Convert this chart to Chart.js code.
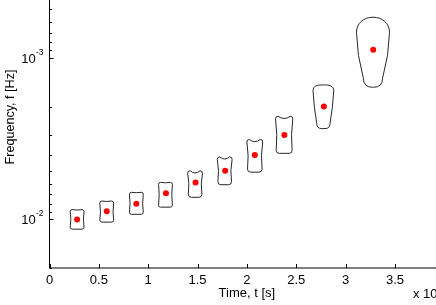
<!DOCTYPE html>
<html><head><meta charset="utf-8">
<script src="https://cdn.jsdelivr.net/npm/chart.js@4/dist/chart.umd.min.js"></script>
<style>
html,body{margin:0;padding:0;background:#fff;overflow:hidden;width:436px;height:305px;}
#c{position:absolute;left:0;top:-58px;width:450px;height:363px;}
</style></head>
<body>
<canvas id="c" width="450" height="363"></canvas>
<script>
// ---- data ----
const times = [0.28, 0.58, 0.88, 1.18, 1.48, 1.78, 2.08, 2.38, 2.78, 3.28];
const freqs = [0.0100, 0.0089, 0.0080, 0.0069, 0.0059, 0.0050, 0.0040, 0.0030, 0.0020, 0.00089];
const boxTimeMin = [0.21, 0.51, 0.81, 1.105, 1.40, 1.70, 2.00, 2.29, 2.67, 3.11];
const boxTimeMax = [0.35, 0.65, 0.95, 1.245, 1.55, 1.85, 2.16, 2.465, 2.88, 3.445];
const boxFreqMin = [0.0087, 0.0077, 0.0068, 0.0059, 0.0050, 0.0041, 0.0032, 0.0023, 0.00147, 0.00056];
const boxFreqMax = [0.0115, 0.0104, 0.0093, 0.0084, 0.0073, 0.0061, 0.0051, 0.0039, 0.00274, 0.00152];
const xTicks = [0, 0.5, 1, 1.5, 2, 2.5, 3, 3.5, 4];
const xTickLabels = ['0', '0.5', '1', '1.5', '2', '2.5', '3', '3.5', '4'];
const yDecades = [0.001, 0.01];
const yDecadeExps = ['-3', '-2'];
const xTitle = 'Time, t [s]';
const yTitle = 'Frequency, f [Hz]';
const xMultiplier = ['x 10', '4'];

const FONT = '"Liberation Sans", Arial, sans-serif';

function shapeStyle(i) {
  if (i < 4) return {rt: 2, rb: 2, dip: 0.4, ratio: 1, waist: 0.6, dome: 0, round: 0};
  if (i < 8) return {rt: 2.5, rb: 3, dip: 2.2, ratio: 0.92, waist: 0.9, dome: 0, round: 0};
  if (i === 8) return {rt: 0, rb: 5, dip: 0, ratio: 0.64, waist: -0.5, dome: 6, round: 0.08};
  return {rt: 0, rb: 9, dip: 0, ratio: 0.58, waist: -1.5, dome: 15, round: 0.4};
}

const contourPlugin = {
  id: 'contours',
  beforeDatasetsDraw(chart) {
    const ctx = chart.ctx, xs = chart.scales.x, ys = chart.scales.y;
    ctx.save();
    ctx.strokeStyle = '#262626';
    ctx.lineWidth = 1;
    for (let i = 0; i < times.length; i++) {
      const s = shapeStyle(i);
      const xl = xs.getPixelForValue(boxTimeMin[i]);
      const xr = xs.getPixelForValue(boxTimeMax[i]);
      const yt = ys.getPixelForValue(boxFreqMin[i]);
      const yb = ys.getPixelForValue(boxFreqMax[i]);
      const cx = (xl + xr) / 2, hwT = (xr - xl) / 2, hwB = hwT * s.ratio;
      const xl2 = cx - hwB, xr2 = cx + hwB;
      ctx.beginPath();
      let ySide;
      if (s.dome > 0) {
        ySide = yt + s.dome;
        ctx.moveTo(xl, ySide);
        ctx.bezierCurveTo(xl, yt + s.dome * s.round, cx - hwT * 0.55, yt, cx, yt);
        ctx.bezierCurveTo(cx + hwT * 0.55, yt, xr, yt + s.dome * s.round, xr, ySide);
      } else {
        ySide = yt + s.rt;
        ctx.moveTo(xl + s.rt, yt);
        ctx.quadraticCurveTo(cx, yt + 2 * s.dip, xr - s.rt, yt);
        ctx.quadraticCurveTo(xr, yt, xr, ySide);
      }
      const mid = (ySide + yb - s.rb) / 2;
      ctx.quadraticCurveTo((xr + xr2) / 2 - 2 * s.waist, mid, xr2, yb - s.rb);
      ctx.quadraticCurveTo(xr2, yb, xr2 - s.rb, yb);
      ctx.lineTo(xl2 + s.rb, yb);
      ctx.quadraticCurveTo(xl2, yb, xl2, yb - s.rb);
      ctx.quadraticCurveTo((xl + xl2) / 2 + 2 * s.waist, mid, xl, ySide);
      if (s.dome <= 0) ctx.quadraticCurveTo(xl, yt, xl + s.rt, yt);
      ctx.closePath();
      ctx.stroke();
    }
    ctx.restore();
  }
};

const axesPlugin = {
  id: 'axesDraw',
  afterDraw(chart) {
    const ctx = chart.ctx, xs = chart.scales.x, ys = chart.scales.y, a = chart.chartArea;
    ctx.save();
    ctx.strokeStyle = '#000';
    ctx.lineWidth = 1;
    ctx.beginPath();
    ctx.moveTo(a.left, a.top); ctx.lineTo(a.left, a.bottom);
    ctx.moveTo(a.left, a.bottom); ctx.lineTo(a.right, a.bottom);
    ctx.stroke();
    ctx.beginPath();
    xTicks.forEach(v => {
      const px = Math.round(xs.getPixelForValue(v)) + 0.5;
      ctx.moveTo(px, a.bottom); ctx.lineTo(px, a.bottom - 4);
    });
    ctx.stroke();
    ctx.beginPath();
    for (let e = -4; e <= -2; e++) {
      for (let k = 1; k <= 9; k++) {
        const v = k * Math.pow(10, e);
        if (v < ys.min || v > ys.max) continue;
        const py = Math.round(ys.getPixelForValue(v)) + 0.5;
        const len = k === 1 ? 4 : 2.5;
        ctx.moveTo(a.left, py); ctx.lineTo(a.left + len, py);
      }
    }
    ctx.stroke();
    ctx.fillStyle = '#000';
    ctx.font = '13px ' + FONT;
    ctx.textAlign = 'center';
    ctx.textBaseline = 'alphabetic';
    xTicks.forEach((v, i) => {
      ctx.fillText(xTickLabels[i], xs.getPixelForValue(v), a.bottom + 16.3);
    });
    yDecades.forEach((v, i) => {
      const py = ys.getPixelForValue(v);
      ctx.font = '13px ' + FONT;
      ctx.textAlign = 'right';
      ctx.fillText('10', a.left - 13.8, py + 5);
      ctx.font = '8.5px ' + FONT;
      ctx.textAlign = 'left';
      ctx.fillText(yDecadeExps[i], a.left - 13.5, py - 3);
    });
    ctx.font = '13px ' + FONT;
    ctx.textAlign = 'center';
    ctx.fillText(xTitle, (a.left + a.right) / 2, a.bottom + 29);
    ctx.textAlign = 'left';
    ctx.fillText(xMultiplier[0], 413, a.bottom + 30.3);
    const w = ctx.measureText(xMultiplier[0]).width;
    ctx.font = '8.5px ' + FONT;
    ctx.fillText(xMultiplier[1], 413 + w + 0.5, a.bottom + 24);
    ctx.font = '12.6px ' + FONT;
    ctx.translate(10.5, (a.top + a.bottom) / 2 + 10.5);
    ctx.rotate(-Math.PI / 2);
    ctx.textAlign = 'center';
    ctx.textBaseline = 'middle';
    ctx.fillText(yTitle, 0, 0);
    ctx.restore();
  }
};

new Chart(document.getElementById('c'), {
  type: 'scatter',
  data: {
    datasets: [{
      data: times.map((t, i) => ({x: t, y: freqs[i]})),
      backgroundColor: '#ff0000',
      borderWidth: 0,
      pointRadius: 3,
      pointHoverRadius: 3
    }]
  },
  options: {
    responsive: false,
    devicePixelRatio: 1,
    animation: false,
    events: [],
    layout: {padding: {left: 0, right: 5.7, top: 0, bottom: 0}},
    plugins: {legend: {display: false}, tooltip: {enabled: false}},
    scales: {
      x: {
        type: 'linear', min: 0, max: 4,
        grid: {display: false}, border: {display: false},
        ticks: {display: false},
        afterFit: s => { s.height = 37; }
      },
      y: {
        type: 'logarithmic', reverse: true, min: 0.0002, max: 0.02,
        grid: {display: false}, border: {display: false},
        ticks: {display: false},
        afterFit: s => { s.width = 49.5; }
      }
    }
  },
  plugins: [contourPlugin, axesPlugin]
});
</script>
</body></html>
